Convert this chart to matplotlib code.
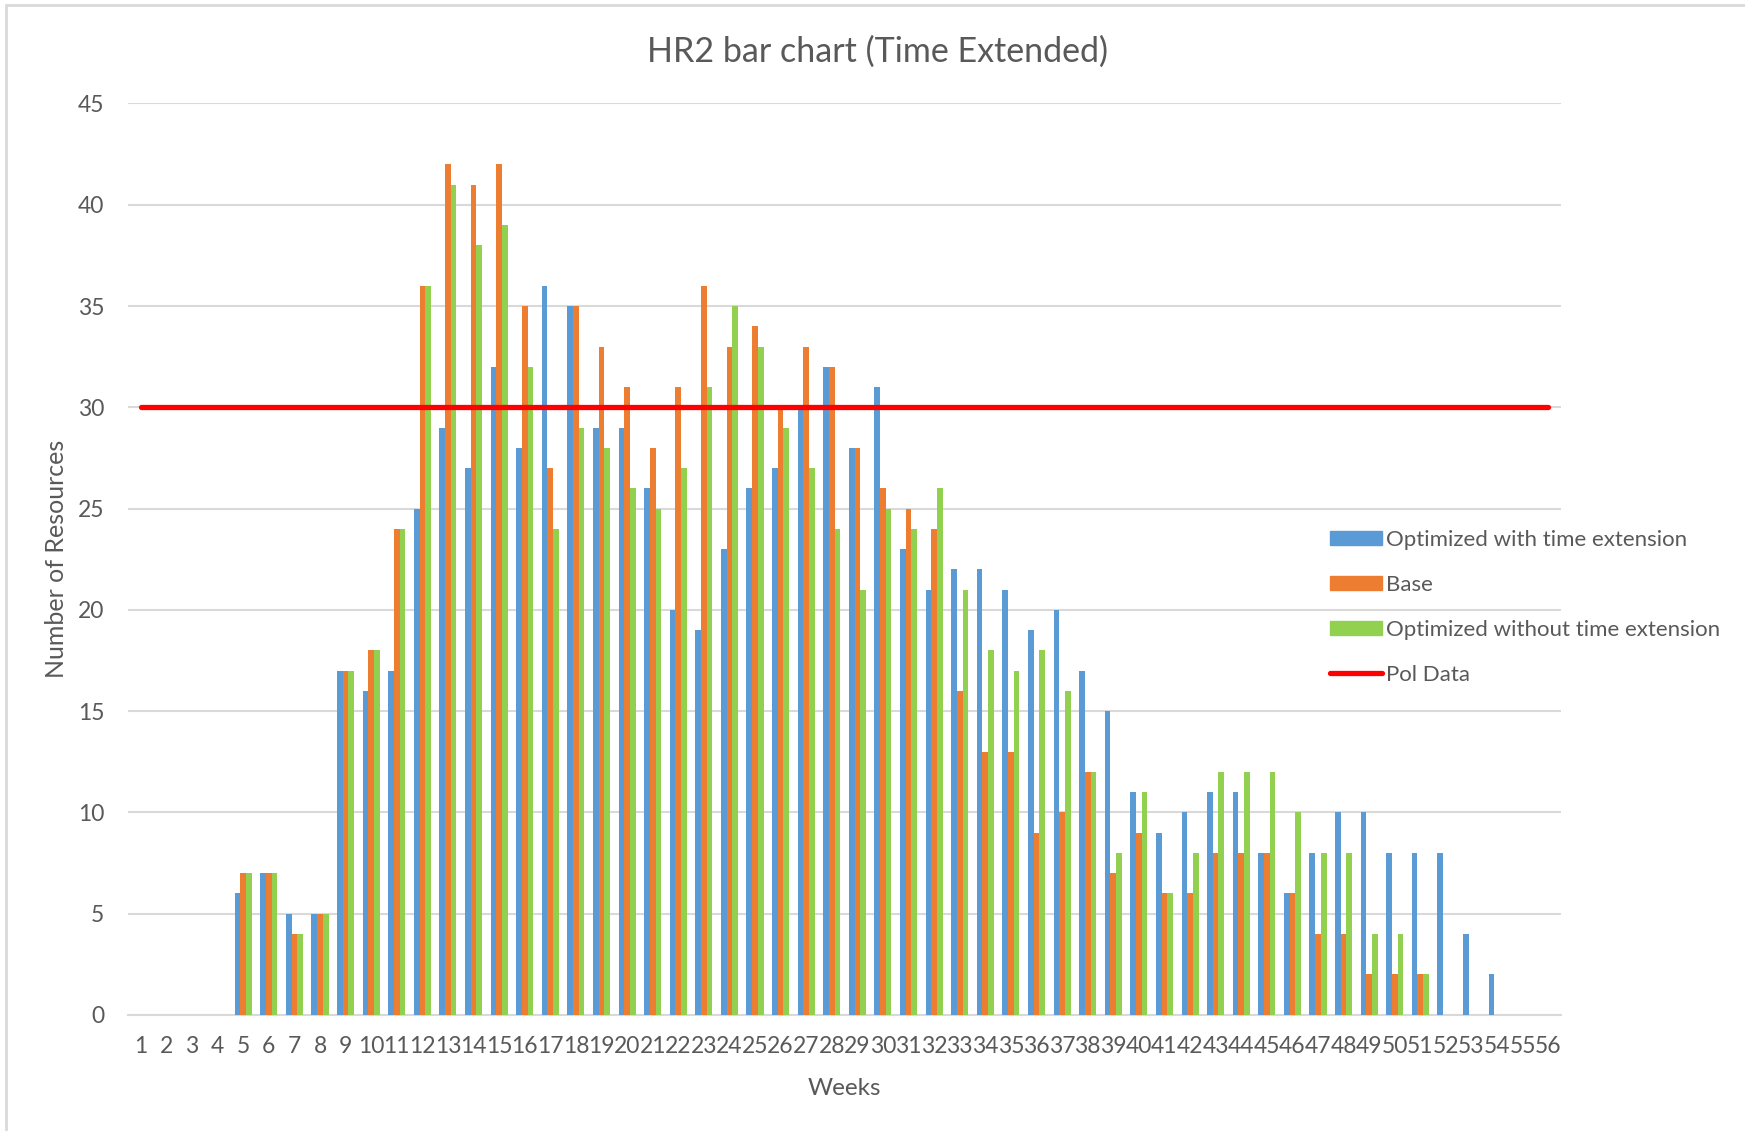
import numpy as np
import matplotlib.pyplot as plt
from matplotlib.lines import Line2D
from matplotlib.patches import Patch

# weekly resource counts per scenario
weeks = list(range(1, 57))
optimized_ext = [0, 0, 0, 0, 6, 7, 5, 5, 17, 16, 17, 25, 29, 27, 32, 28, 36, 35, 29, 29,
                 26, 20, 19, 23, 26, 27, 30, 32, 28, 31, 23, 21, 22, 22, 21, 19, 20, 17, 15, 11,
                 9, 10, 11, 11, 8, 6, 8, 10, 10, 8, 8, 8, 4, 2, 0, 0]
base = [0, 0, 0, 0, 7, 7, 4, 5, 17, 18, 24, 36, 42, 41, 42, 35, 27, 35, 33, 31,
        28, 31, 36, 33, 34, 30, 33, 32, 28, 26, 25, 24, 16, 13, 13, 9, 10, 12, 7, 9,
        6, 6, 8, 8, 8, 6, 4, 4, 2, 2, 2, 0, 0, 0, 0, 0]
optimized_no_ext = [0, 0, 0, 0, 7, 7, 4, 5, 17, 18, 24, 36, 41, 38, 39, 32, 24, 29, 28, 26,
                    25, 27, 31, 35, 33, 29, 27, 24, 21, 25, 24, 26, 21, 18, 17, 18, 16, 12, 8, 11,
                    6, 8, 12, 12, 12, 10, 8, 8, 4, 4, 2, 0, 0, 0, 0, 0]
pol_limit = 30

series_names = ["Optimized with time extension", "Base", "Optimized without time extension"]
series_colors = ["#5B9BD5", "#ED7D31", "#92D050"]
text_gray = "#595959"
grid_gray = "#D9D9D9"

plt.rcParams['font.family'] = ['Lato', 'DejaVu Sans']

fig = plt.figure(figsize=(17.45, 11.31), dpi=100)
ax = fig.add_axes([0.0734, 0.1026, 0.8212, 0.8059])

x = np.arange(len(weeks))
w = 0.222
for i, (vals, col) in enumerate(zip([optimized_ext, base, optimized_no_ext], series_colors)):
    ax.bar(x + (i - 1) * w, vals, width=w, color=col, zorder=3)

ax.plot([x[0], x[-1]], [pol_limit, pol_limit], color="#FF0000", lw=3.8,
        solid_capstyle="round", zorder=4)

ax.set_xlim(-0.5, len(weeks) - 0.5)
ax.set_ylim(0, 45)
ax.set_yticks(range(0, 46, 5))
ax.set_xticks(x)
ax.set_xticklabels([str(wk) for wk in weeks])
ax.yaxis.grid(True, color=grid_gray, lw=1.5, zorder=0)
ax.set_axisbelow(True)
for side in ["top", "right", "left"]:
    ax.spines[side].set_visible(False)
ax.spines["bottom"].set_color(grid_gray)
ax.spines["bottom"].set_linewidth(1.5)
ax.tick_params(axis="both", length=0, labelsize=16.5, labelcolor=text_gray)
ax.tick_params(axis="x", pad=15.5)
ax.tick_params(axis="y", pad=17)

ax.set_xlabel("Weeks", fontsize=17.5, color=text_gray, va="center")
ax.xaxis.set_label_coords(0.5, -0.0805)
ax.set_ylabel("Number of Resources", fontsize=18, color=text_gray, va="center")
ax.yaxis.set_label_coords(-0.050, 0.5)
fig.text(0.5026, 0.954, "HR2 bar chart (Time Extended)", fontsize=24.5,
         color=text_gray, ha="center", va="center")

handles = [Patch(color=c) for c in series_colors]
handles.append(Line2D([], [], color="#FF0000", lw=3.8, solid_capstyle="round"))
leg = fig.legend(handles, series_names + ["Pol Data"], loc="upper left",
                 bbox_to_anchor=(0.751, 0.549), frameon=False, fontsize=16,
                 handlelength=2.3, handleheight=0.6, handletextpad=0.2,
                 labelspacing=1.12)
for t in leg.get_texts():
    t.set_color(text_gray)

# light chart frame
fig.add_artist(plt.Rectangle((0.0037, -0.01), 1.05, 1.0056, transform=fig.transFigure,
                             fill=False, edgecolor=grid_gray, lw=2))

fig.savefig("out.png", dpi=100)
